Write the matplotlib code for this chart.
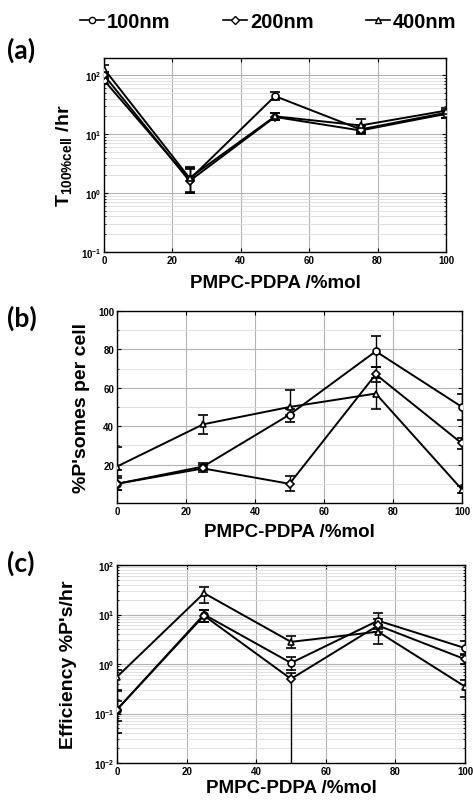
import numpy as np
import matplotlib
matplotlib.use("Agg")
import matplotlib.pyplot as plt
from matplotlib.lines import Line2D
from matplotlib.ticker import LogLocator, NullFormatter, MultipleLocator, FixedLocator

plt.rcParams['font.family'] = ['Liberation Sans', 'DejaVu Sans']
plt.rcParams['font.weight'] = 'bold'
plt.rcParams['mathtext.fontset'] = 'custom'
plt.rcParams['mathtext.rm'] = 'Liberation Sans:bold'
plt.rcParams['mathtext.it'] = 'Liberation Sans:bold'
plt.rcParams['mathtext.bf'] = 'Liberation Sans:bold'
plt.rcParams['mathtext.default'] = 'rm'

# ---------------- data ----------------
x = [0, 25, 50, 75, 100]
labels = ['100nm', '200nm', '400nm']
markers = ['o', 'D', '^']

# (a) T100%cell /hr
a_vals = [[82, 1.7, 44, 12, 23],
          [100, 1.6, 19.5, 11.5, 22],
          [128, 1.8, 20, 14, 25]]
a_lo = [[72, 1.05, 38, 10.5, 19],
        [88, 1.0, 17, 10, 19],
        [112, 1.0, 17.5, 11, 21]]
a_hi = [[95, 2.6, 52, 14, 26],
        [115, 2.7, 23, 13.5, 25],
        [150, 2.8, 23, 18, 28]]

# (b) %P'somes per cell
b_vals = [[10, 19, 46, 79, 50],
          [10, 18, 10, 67, 31],
          [19, 41, 50, 57, 7]]
b_lo = [[7, 17, 42, 71, 43],
        [7, 16, 6, 63, 28],
        [17, 36, 46, 49, 5]]
b_hi = [[14, 21, 49, 87, 57],
        [13, 20, 14, 71, 34],
        [29, 46, 59, 65, 9]]

# (c) Efficiency %P's/hr
c_vals = [[0.12, 10, 1.05, 7.5, 2.1],
          [0.12, 9.5, 0.5, 6.0, 1.25],
          [0.55, 27, 2.8, 4.5, 0.35]]
c_lo = [[0.04, 7.2, 0.75, 5.0, 1.5],
        [0.07, 7.2, 0.0005, 4.5, 1.0],
        [0.3, 17.4, 2.1, 2.5, 0.22]]
c_hi = [[0.29, 12.6, 1.4, 10.5, 2.9],
        [0.18, 12.6, 0.66, 8.0, 1.6],
        [0.76, 36, 3.6, 6.0, 0.48]]

xticks = [0, 20, 40, 60, 80, 100]

W, H = 473, 804
fig = plt.figure(figsize=(W / 100, H / 100), dpi=100)


def rect(l, r, t, b):
    return [l / W, (H - b) / H, (r - l) / W, (b - t) / H]


def draw(ax, vals, lo, hi):
    for v, l_, h_, m in zip(vals, lo, hi, markers):
        v = np.array(v, float)
        err = [v - np.array(l_, float), np.array(h_, float) - v]
        ms = 5.0 if m != 'D' else 4.2
        ax.errorbar(x, v, yerr=err, color='black', lw=1.4, marker=m, ms=ms,
                    mfc='white', mec='black', mew=1.2, capsize=3.6,
                    elinewidth=1.0, capthick=1.0, zorder=3)


def style(ax, log):
    ax.set_xlim(0, 100)
    ax.xaxis.set_major_locator(FixedLocator(xticks))
    ax.tick_params(direction='in', which='both', top=True, right=True,
                   labelsize=7, pad=2)
    ax.tick_params(which='major', length=3, width=0.8)
    ax.tick_params(which='minor', length=1.5, width=0.6)
    ax.grid(True, which='major', color='#b3b3b3', lw=0.8)
    ax.grid(True, which='minor', axis='y', color='#dcdcdc', lw=0.6)
    ax.set_axisbelow(True)
    for s in ax.spines.values():
        s.set_linewidth(1.0)
    if log:
        ax.set_yscale('log')
        ax.yaxis.set_major_locator(LogLocator(base=10, numticks=10))
        ax.yaxis.set_minor_locator(LogLocator(base=10, subs=np.arange(2, 10), numticks=20))
        ax.yaxis.set_minor_formatter(NullFormatter())


# (a)
axa = fig.add_axes(rect(104, 446, 59, 253))
draw(axa, a_vals, a_lo, a_hi)
style(axa, True)
axa.set_ylim(0.1, 195)
axa.set_ylabel('T$_{100\\%cell}$ /hr', fontsize=14, fontweight='bold')
axa.yaxis.set_label_coords(-30 / 342, 0.5)
axa.set_xlabel('PMPC-PDPA /%mol', fontsize=13.5, fontweight='bold')
axa.xaxis.set_label_coords(0.5, -31 / 194)
axa.xaxis.label.set_va('center')

# (b)
axb = fig.add_axes(rect(117, 462, 312, 504))
draw(axb, b_vals, b_lo, b_hi)
style(axb, False)
axb.set_ylim(0, 100)
axb.yaxis.set_major_locator(FixedLocator([20, 40, 60, 80, 100]))
axb.yaxis.set_minor_locator(MultipleLocator(10))
axb.set_ylabel("%P'somes per cell", fontsize=14, fontweight='bold')
axb.yaxis.set_label_coords(-27 / 345, 0.5)
axb.set_xlabel('PMPC-PDPA /%mol', fontsize=13.5, fontweight='bold')
axb.xaxis.set_label_coords(0.5, -29 / 192)
axb.xaxis.label.set_va('center')

# (c)
axc = fig.add_axes(rect(117, 465, 566, 764))
draw(axc, c_vals, c_lo, c_hi)
style(axc, True)
axc.set_ylim(0.01, 100)
axc.set_ylabel("Efficiency %P's/hr", fontsize=14, fontweight='bold')
axc.yaxis.set_label_coords(-40 / 348, 0.5)
axc.set_xlabel('PMPC-PDPA /%mol', fontsize=13.5, fontweight='bold')
axc.xaxis.set_label_coords(0.5, -25 / 198)
axc.xaxis.label.set_va('center')

# panel letters
for lab, yy in [('(a)', 50), ('(b)', 318), ('(c)', 563)]:
    fig.text(7 / W, 1 - yy / H, lab, fontsize=19, fontweight='bold',
             family=['Lato', 'DejaVu Sans'], va='center', ha='left')

# legend
handles = [Line2D([], [], color='black', lw=1.2, marker=m, ms=(4.5 if m != 'D' else 3.8),
                  mfc='white', mec='black', mew=1.0) for m in markers]
fig.legend(handles, labels, loc='center', bbox_to_anchor=(268 / W, 1 - 23 / H),
           ncol=3, frameon=False, prop={'size': 14.5, 'weight': 'bold'},
           handlelength=1.2, handletextpad=0.15, columnspacing=2.6)

fig.savefig('out.png', dpi=100)
